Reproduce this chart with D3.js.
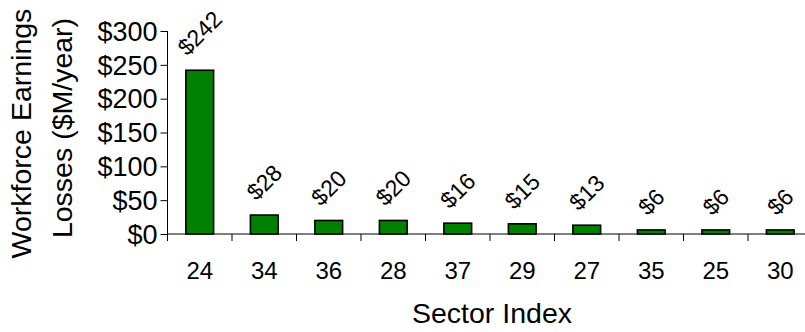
<!DOCTYPE html>
<html>
<head>
<meta charset="utf-8">
<script src="https://cdn.jsdelivr.net/npm/d3@7/dist/d3.min.js"></script>
<style>
  html, body { margin: 0; padding: 0; background: #fff; }
  svg { display: block; font-family: "Liberation Sans", Arial, sans-serif; }
</style>
</head>
<body>
<svg id="chart" width="805" height="332"></svg>
<script>
// Earnings losses by sector, sorted from largest to smallest
const sectors = ["24", "34", "36", "28", "37", "29", "27", "35", "25", "30"];
const losses = [242, 28, 20, 20, 16, 15, 13, 6, 6, 6];
const yTicks = [0, 50, 100, 150, 200, 250, 300];
const yTitleLines = ["Workforce Earnings", "Losses ($M/year)"];
const xTitle = "Sector Index";

const svg = d3.select("#chart");
const plotLeft = 167.5, plotBottom = 234, plotTop = 31;

const y = d3.scaleLinear().domain([0, 300]).range([plotBottom, plotTop]);
const x = d3.scaleBand().domain(sectors).range([plotLeft, plotLeft + 64.5 * sectors.length]).padding(0);
const barW = x.bandwidth() * 0.43;

// y axis
const yAxis = svg.append("g")
  .attr("transform", `translate(${plotLeft},0)`)
  .call(d3.axisLeft(y).tickValues(yTicks).tickSize(7).tickPadding(3).tickFormat(d => "$" + d));
yAxis.select(".domain").attr("stroke", "#000").attr("d", `M0,${plotTop}V${plotBottom}`);
yAxis.selectAll(".tick line").attr("stroke", "#000");
yAxis.selectAll(".tick text").attr("font-size", 27).attr("fill", "#000")
  .attr("font-family", "Liberation Sans, Arial, sans-serif").attr("dy", "0.34em");

// x axis: ticks sit on the category boundaries
const xAxisG = svg.append("g").attr("transform", `translate(0,${plotBottom})`);
xAxisG.append("line").attr("x1", plotLeft).attr("x2", 805).attr("stroke", "#000");
const bounds = sectors.map(s => x(s));
xAxisG.selectAll("line.tk").data(bounds).join("line").attr("class", "tk")
  .attr("x1", d => d).attr("x2", d => d).attr("y1", 0).attr("y2", 7).attr("stroke", "#000");
xAxisG.selectAll("text").data(sectors).join("text")
  .attr("x", d => x(d) + x.bandwidth() / 2).attr("y", 45)
  .attr("text-anchor", "middle").attr("font-size", 24).attr("fill", "#000").text(d => d);

// bars
svg.append("g").selectAll("rect").data(sectors).join("rect")
  .attr("x", (d) => x(d) + (x.bandwidth() - barW) / 2)
  .attr("y", (d, i) => y(losses[i]))
  .attr("width", barW)
  .attr("height", (d, i) => plotBottom - y(losses[i]))
  .attr("fill", "#008000").attr("stroke", "#000").attr("stroke-width", 1.6);

// rotated value labels above the bars
const lbl = svg.append("g").selectAll("text").data(sectors).join("text")
  .attr("font-size", 23).attr("fill", "#000")
  .attr("text-anchor", "middle").attr("dominant-baseline", "central")
  .text((d, i) => "$" + losses[i]);
lbl.each(function (d, i) {
  const L = this.getComputedTextLength();
  const off = 12 + (L + 20) * 0.354;
  const cx = x(d) + x.bandwidth() / 2;
  const cy = y(losses[i]) - off;
  d3.select(this).attr("transform", `translate(${cx},${cy}) rotate(-45)`);
});

// axis titles
const yTitlePos = [{ bx: 31, cy: 133.5 }, { bx: 72, cy: 128 }];
svg.append("g").selectAll("text").data(yTitleLines).join("text")
  .attr("transform", (d, i) => `translate(${yTitlePos[i].bx},${yTitlePos[i].cy}) rotate(-90)`)
  .attr("text-anchor", "middle").attr("font-size", 28.5).attr("fill", "#000").text(d => d);

svg.append("text").attr("x", 492).attr("y", 323).attr("text-anchor", "middle")
  .attr("font-size", 28.5).attr("fill", "#000").text(xTitle);
</script>
</body>
</html>
